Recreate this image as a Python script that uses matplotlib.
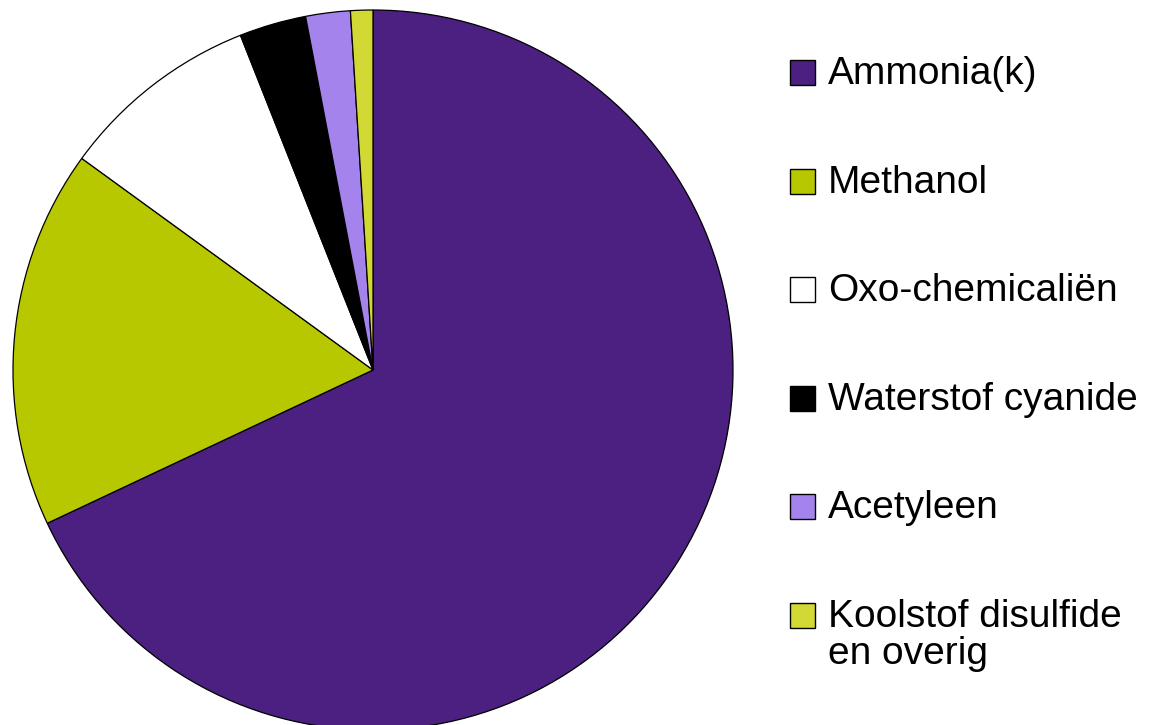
import matplotlib
matplotlib.use("Agg")
import matplotlib.pyplot as plt
from matplotlib.patches import Rectangle

labels = ["Ammonia(k)", "Methanol", "Oxo-chemicaliën", "Waterstof cyanide",
          "Acetyleen", "Koolstof disulfide\nen overig"]
shares = [68, 17, 9, 3, 2, 1]
colors = ["#4b2080", "#b7c800", "#ffffff", "#000000", "#a583ec", "#d2d834"]

W, H = 1167, 725
fig = plt.figure(figsize=(W / 100, H / 100), dpi=100)
plt.rcParams["font.family"] = ["Liberation Sans", "DejaVu Sans"]

# pie: centre (373, 370) px, radius 360 px
ax = fig.add_axes([13 / W, (H - 730) / H, 720 / W, 720 / H])
ax.pie(shares, colors=colors, startangle=90, counterclock=False,
       wedgeprops=dict(edgecolor="black", linewidth=0.9))
ax.set_xlim(-1, 1)
ax.set_ylim(-1, 1)
ax.set_aspect("equal")
ax.axis("off")

# legend drawn by hand so the square sits on the first line
top0, step = 60, 108.6
for i, (lab, col) in enumerate(zip(labels, colors)):
    ytop = top0 + i * step
    fig.patches.append(Rectangle((790 / W, 1 - (ytop + 25) / H), 25 / W, 25 / H,
                                 transform=fig.transFigure, facecolor=col,
                                 edgecolor="black", linewidth=1.0))
    fig.text(828 / W, 1 - (ytop - 4) / H, lab, fontsize=28, va="top",
             ha="left", linespacing=1.05, color="black")

fig.savefig("out.png", dpi=100)
